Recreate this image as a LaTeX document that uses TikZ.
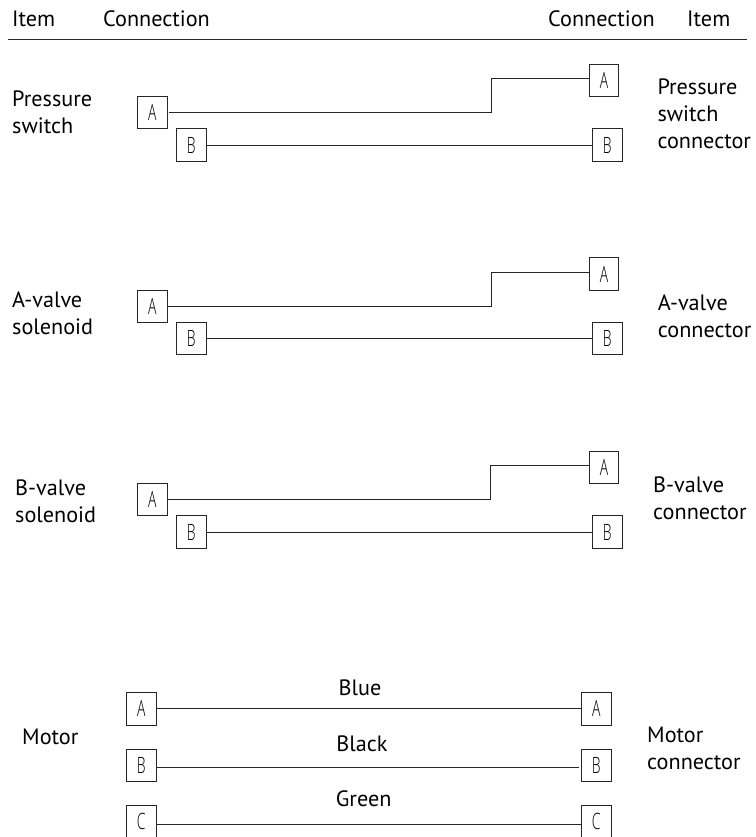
\documentclass[tikz,border=0pt]{standalone}
\usepackage{fontspec}
\setmainfont{PT Sans}
\newfontfamily\cadfont[FakeStretch=0.62]{Open Sans Light}
\tikzset{
  lbl/.style={font=\fontsize{22.2}{27}\selectfont, inner sep=0pt, align=left, anchor=base west},
  ctr/.style={font=\fontsize{22.2}{27}\selectfont, inner sep=0pt, anchor=base},
  pin/.style={draw=black!85, line width=0.8pt, minimum width=29.4pt, minimum height=32.3pt, inner sep=0pt, font=\cadfont\fontsize{22.5}{23}\selectfont, text=black},
  wire/.style={draw=black!85, line width=0.8pt},
}
\begin{document}
\begin{tikzpicture}[x=1pt,y=-1pt]
\useasboundingbox (0,0) rectangle (755,837);
\begin{scope}
\clip (0,0) rectangle (755,837);
% Header
\node[lbl] (h1) at (12,26.3) {Item};
\node[lbl] (h2) at (103,26.3) {Connection};
\node[lbl] (h3) at (548,26.3) {Connection};
\node[lbl] (h4) at (687,26.3) {Item};
\coordinate (ruleL) at (8,39);
\coordinate (ruleR) at (747,39);
\draw[line width=0.8pt, draw=black!85] (ruleL) -- (ruleR);
% Group 1
\node[lbl] (t1) at (12,134) {Pressure\\switch};
\node[lbl] (t1r) at (657.3,149) {Pressure\\switch\\connector};
\node[pin] (a1) at (152.2,112.7) {A};
\node[pin] (b1) at (191.2,145) {B};
\node[pin] (ra1) at (604,80.3) {A};
\node[pin] (rb1) at (607.2,145) {B};
\coordinate (s1) at (169,112);
\coordinate (j1) at (491.7,78.3);
\draw[wire] (s1) -| (j1) -- (j1 -| ra1.west);
\draw[wire] (b1.east) -- (rb1.west);
% Group 2
\node[lbl] (t2) at (12,334.5) {A-valve\\solenoid};
\node[lbl] (t2r) at (657.7,337) {A-valve\\connector};
\node[pin] (a2) at (152.2,306.2) {A};
\node[pin] (b2) at (191.2,338.6) {B};
\node[pin] (ra2) at (604,274) {A};
\node[pin] (rb2) at (607.2,338.6) {B};
\coordinate (s2) at (168,306.5);
\coordinate (j2) at (491,272.7);
\draw[wire] (s2) -| (j2) -- (j2 -| ra2.west);
\draw[wire] (b2.east) -- (rb2.west);
% Group 3
\node[lbl] (t3) at (15,522) {B-valve\\solenoid};
\node[lbl] (t3r) at (653,519) {B-valve\\connector};
\node[pin] (a3) at (152.2,499.7) {A};
\node[pin] (b3) at (191.2,532) {B};
\node[pin] (ra3) at (604,467.5) {A};
\node[pin] (rb3) at (607.2,532) {B};
\coordinate (j3) at (490,465);
\draw[wire] (a3.east) -| (j3) -- (j3 -| ra3.west);
\draw[wire] (b3.east) -- (rb3.west);
% Motor
\node[lbl] (t4) at (22,744) {Motor};
\node[lbl] (t4r) at (647,769) {Motor\\connector};
\node[pin] (a4) at (141.3,708.8) {A};
\node[pin] (b4) at (141.3,765.2) {B};
\node[pin] (c4) at (141.3,821.5) {C};
\node[pin] (ra4) at (596.2,708.8) {A};
\node[pin] (rb4) at (596.2,765.2) {B};
\node[pin] (rc4) at (596.2,821.5) {C};
\coordinate (m2l) at (156,767.7);
\coordinate (m2r) at (579.3,767.7);
\coordinate (m3l) at (156,824.3);
\coordinate (m3r) at (581.5,824.3);
\draw[wire] (a4.east) -- (ra4.west);
\draw[wire] (m2l) -- (m2r);
\draw[wire] (m3l) -- (m3r);
\node[ctr] (blue) at (360,695) {Blue};
\node[ctr] (black) at (362,751) {Black};
\node[ctr] (green) at (363.7,806.7) {Green};
\end{scope}
\end{tikzpicture}
\end{document}
